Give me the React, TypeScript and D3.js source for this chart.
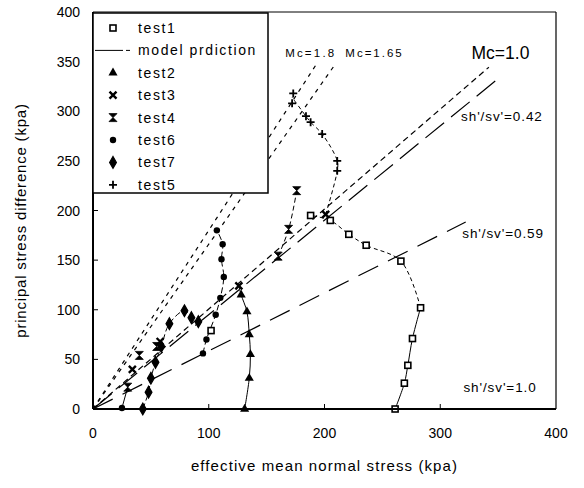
import React from 'react';
import * as d3 from 'd3';

// ---- data (p', q in kPa) ----
const xTicks = [0, 100, 200, 300, 400];
const yTicks = [0, 50, 100, 150, 200, 250, 300, 350, 400];

const test1 = [[261, 0], [269, 26], [272, 44], [276, 71], [283, 102], [266, 149], [236, 165], [221, 176], [205, 190], [188, 195]];
const test1Isolated = [[102, 79]];
const test2 = [[131, 0], [135, 31], [136, 55], [135, 75], [133, 98], [128, 115]];
const test3 = [[34, 40], [126, 124], [201, 196], [58, 68]];
const test4 = [[30, 22], [40, 54], [55, 63], [160, 154], [169, 181], [176, 220]];
const test5 = [[211, 240], [211, 250], [198, 277], [188, 289], [184, 295], [173, 318], [172, 308]];
const test6 = [[25, 1], [95, 56], [98, 70], [106, 95], [110, 112], [113, 133], [111, 151], [112, 166], [107, 180]];
const test7 = [[43, 0], [48, 17], [50, 31], [54, 47], [59, 63], [66, 86], [79, 99], [85, 92], [91, 88]];

// model prediction curves
const pred1Lower = test1.slice(0, 5);
const pred1Upper = test1.slice(4);
const pred2 = [...test2, [126, 124]];
const pred4 = test4.slice(3);
const pred5 = [[201, 196], [211, 240], [211, 250], [198, 277], [188, 289], [184, 295], [172, 314]];
const pred6 = test6.slice(1);
const pred6Start = test6.slice(0, 1).concat([[30, 22]]);
const pred7 = test7;

// reference lines q = slope * p
const refNames = ['Mc=1.8', 'Mc=1.65', 'Mc=1.0', "sh'/sv'=0.42", "sh'/sv'=0.59"];
const refSlopes = [1.8, 1.66, 1.007, 0.951, 0.585];
const refEnds = [193, 208, 342, 349, 322];

const legendLabels = ['test1', 'model prdiction', 'test2', 'test3', 'test4', 'test6', 'test7', 'test5'];

const FONT = '"Liberation Sans", Arial, Helvetica, sans-serif';

const x = d3.scaleLinear().domain([0, 400]).range([93, 556]);
const y = d3.scaleLinear().domain([0, 400]).range([409, 12]);

const refDash = ['4,5', '4,5', '6,4', '24,9', '22,11'];

function Marker({ type, cx, cy }: { type: string; cx: number; cy: number }) {
  const t = `translate(${cx},${cy})`;
  switch (type) {
    case 'square':
      return <rect x={cx - 3} y={cy - 3} width={6} height={6} fill="#fff" stroke="#000" strokeWidth={1.6} />;
    case 'triangle':
      return <path transform={t} d={d3.symbol(d3.symbolTriangle, 36)()!} fill="#000" />;
    case 'x':
      return <path transform={t} d="M-3.5,-3.5L3.5,3.5M3.5,-3.5L-3.5,3.5" stroke="#000" strokeWidth={2.4} />;
    case 'hour':
      return <path transform={t} d="M-4,-4L4,-4L0,0L4,4L-4,4L0,0Z" fill="#000" stroke="#000" strokeWidth={0.8} />;
    case 'circle':
      return <circle cx={cx} cy={cy} r={3.2} fill="#000" />;
    case 'diamond':
      return <path transform={t} d={d3.symbol(d3.symbolDiamond, 40)()!} fill="#000" stroke="#000" strokeWidth={1.2} />;
    case 'plus':
      return <path transform={t} d="M-4,0L4,0M0,-4L0,4" stroke="#000" strokeWidth={1.8} />;
    default:
      return null;
  }
}

export default function App() {
  const line = d3
    .line<number[]>()
    .x((d) => x(d[0]))
    .y((d) => y(d[1]))
    .curve(d3.curveCatmullRom.alpha(0.5));
  const straight = d3
    .line<number[]>()
    .x((d) => x(d[0]))
    .y((d) => y(d[1]));

  const series: [number[][], string][] = [
    [test1, 'square'],
    [test1Isolated, 'square'],
    [test2, 'triangle'],
    [test3, 'x'],
    [test4, 'hour'],
    [test5, 'plus'],
    [test6, 'circle'],
    [test7, 'diamond'],
  ];

  const preds: [number[][], string][] = [
    [pred1Lower, 'none'],
    [pred1Upper, '4,3'],
    [pred2, 'none'],
    [pred4, '5,3'],
    [pred5, '4,3'],
    [pred6, '6,3'],
    [pred6Start, 'none'],
    [pred7, '6,3'],
  ];

  const legendTypes = ['square', 'line', 'triangle', 'x', 'hour', 'circle', 'diamond', 'plus'];
  const lgX = 93, lgY = 13, lgW = 175, lgH = 180, rowH = 22.4;

  return (
    <svg width={584} height={488} style={{ position: 'absolute', left: 0, top: 0, background: '#fff' }} fontFamily={FONT}>
      <rect x={0} y={0} width={584} height={488} fill="#fff" />
      {/* reference lines */}
      {refSlopes.map((s, i) => (
        <path
          key={'ref' + i}
          d={straight([[0, 0], [refEnds[i], refEnds[i] * s]])!}
          stroke="#000"
          strokeWidth={1.2}
          strokeDasharray={refDash[i]}
          fill="none"
        />
      ))}
      {/* model predictions */}
      {preds.map(([pts, dash], i) => (
        <path key={'p' + i} d={line(pts)!} stroke="#000" strokeWidth={1} fill="none" strokeDasharray={dash === 'none' ? undefined : dash} />
      ))}
      {/* markers */}
      {series.map(([pts, type], i) =>
        pts.map((p, j) => <Marker key={i + '-' + j} type={type} cx={x(p[0])} cy={y(p[1])} />)
      )}
      {/* frame */}
      <line x1={x(0)} x2={x(400)} y1={y(400)} y2={y(400)} stroke="#000" strokeWidth={1} />
      <line x1={x(400)} x2={x(400)} y1={y(400)} y2={y(0)} stroke="#000" strokeWidth={1.2} />
      <line x1={x(0)} x2={x(400)} y1={y(0)} y2={y(0)} stroke="#000" strokeWidth={2} />
      <line x1={x(0)} x2={x(0)} y1={y(400)} y2={y(0)} stroke="#000" strokeWidth={2} />
      {/* ticks */}
      {yTicks.map((t) => (
        <g key={'yt' + t}>
          {t > 0 && t < 400 && <line x1={x(0)} x2={x(0) + 5} y1={y(t)} y2={y(t)} stroke="#000" strokeWidth={1} />}
          <text x={80} y={y(t) + 5} textAnchor="end" fontSize={14}>
            {t}
          </text>
        </g>
      ))}
      {xTicks.map((t) => (
        <g key={'xt' + t}>
          {t > 0 && t < 400 && <line x1={x(t)} x2={x(t)} y1={y(0)} y2={y(0) - 5} stroke="#000" strokeWidth={1} />}
          <text x={x(t)} y={438} textAnchor="middle" fontSize={14}>
            {t}
          </text>
        </g>
      ))}
      {/* axis titles */}
      <text x={(x(0) + x(400)) / 2} y={471} textAnchor="middle" fontSize={15} letterSpacing={1.1}>
        effective mean normal stress (kpa)
      </text>
      <text transform={`translate(26,${(y(0) + y(400)) / 2 + 10}) rotate(-90)`} textAnchor="middle" fontSize={15} letterSpacing={0.8}>
        principal stress difference (kpa)
      </text>
      {/* annotations */}
      <text x={x(166)} y={y(355)} fontSize={11.5} letterSpacing={2.2}>{refNames[0]}</text>
      <text x={x(218)} y={y(355)} fontSize={11.5} letterSpacing={2}>{refNames[1]}</text>
      <text x={x(327)} y={y(353)} fontSize={17.5}>{refNames[2]}</text>
      <text x={x(318)} y={y(290)} fontSize={13.5} letterSpacing={0.9}>{refNames[3]}</text>
      <text x={x(319)} y={y(172)} fontSize={13.5} letterSpacing={0.9}>{refNames[4]}</text>
      <text x={x(320)} y={y(17)} fontSize={13.5} letterSpacing={0.9}>sh'/sv'=1.0</text>
      {/* legend */}
      <rect x={lgX} y={lgY} width={lgW} height={lgH} fill="#fff" stroke="#000" strokeWidth={1.5} />
      {legendLabels.map((lab, i) => {
        const cy = lgY + 15 + i * rowH;
        return (
          <g key={'lg' + i}>
            {legendTypes[i] === 'line' ? (
              <path d={`M95,${cy}L130,${cy}`} stroke="#000" strokeWidth={1} strokeDasharray="28,3,4" />
            ) : (
              <Marker type={legendTypes[i]} cx={113} cy={cy} />
            )}
            <text x={138} y={cy + 5} fontSize={14} letterSpacing={1.6}>
              {lab}
            </text>
          </g>
        );
      })}
    </svg>
  );
}
